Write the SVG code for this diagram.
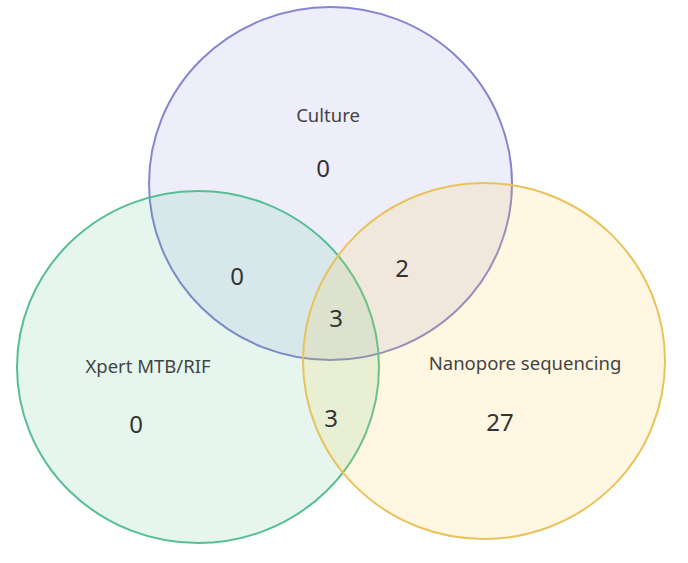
<svg xmlns="http://www.w3.org/2000/svg" width="688" height="563" viewBox="0 0 688 563">
<style>
.set{stroke-width:2}
.lbl{font-family:"Noto Sans","Open Sans",sans-serif;font-size:18.5px;fill:#444;text-anchor:middle}
.num{font-family:"Noto Sans","Open Sans",sans-serif;font-size:24px;fill:#333;text-anchor:middle}
</style>
<rect width="688" height="563" fill="#ffffff"/>
<g id="culture">
<ellipse cx="330.5" cy="183.5" rx="181.5" ry="176.5" fill="#6464dc" fill-opacity="0.11" stroke="#8585d2" class="set"/>
</g>
<g id="xpert">
<ellipse cx="198" cy="367" rx="181" ry="176" fill="#2fb874" fill-opacity="0.12" stroke="#55bf93" class="set"/>
</g>
<g id="nanopore">
<ellipse cx="484" cy="361" rx="181" ry="178" fill="#ffc838" fill-opacity="0.15" stroke="#e9c25a" class="set"/>
</g>
<g id="labels">
<text class="lbl" x="328" y="122">Culture</text>
<text class="lbl" x="148" y="373">Xpert MTB/RIF</text>
<text class="lbl" x="525" y="370">Nanopore sequencing</text>
<text class="num" x="323" y="177">0</text>
<text class="num" x="237" y="285">0</text>
<text class="num" x="402" y="277">2</text>
<text class="num" x="336" y="327">3</text>
<text class="num" x="331" y="427">3</text>
<text class="num" x="136" y="433">0</text>
<text class="num" x="500" y="431">27</text>
</g>
<g id="connectors"/>
</svg>
